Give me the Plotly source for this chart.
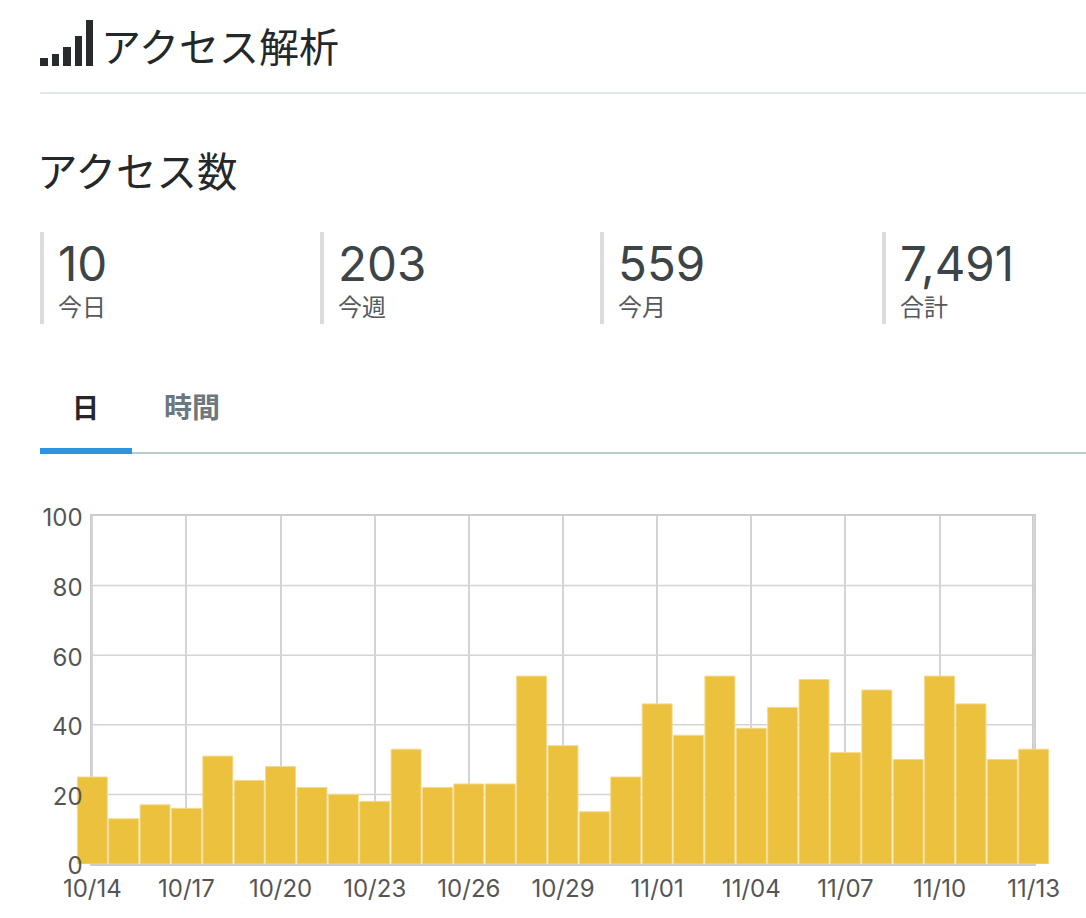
import plotly.graph_objects as go

days = ["10/14","10/15","10/16","10/17","10/18","10/19","10/20","10/21","10/22","10/23","10/24",
        "10/25","10/26","10/27","10/28","10/29","10/30","10/31","11/01","11/02","11/03","11/04",
        "11/05","11/06","11/07","11/08","11/09","11/10","11/11","11/12","11/13"]
visits = [25,13,17,16,31,24,28,22,20,18,33,22,23,23,54,34,15,25,46,37,54,39,45,53,32,50,30,54,46,30,33]
x_ticks = days[::3]
y_ticks = [0,20,40,60,80,100]
stat_values = ["10","203","559","7,491"]
stat_labels = ["今日","今週","今月","合計"]
stat_left = [40,320,600,882]

W, H = 1086, 918
JP = "Noto Sans CJK JP"
NUM = "Inter"
px = lambda x: x / W
py = lambda y: 1 - y / H

annotations = []
def text(x, y, s, size, color, font=JP, anchor="left"):
    annotations.append(dict(x=px(x), y=py(y), xref="paper", yref="paper", text=s, showarrow=False,
                            xanchor=anchor, yanchor="middle", borderpad=0,
                            font=dict(size=size, color=color, family=font)))
shapes = []
def rect(x0, y0, x1, y1, color, layer="above"):
    shapes.append(dict(type="rect", xref="paper", yref="paper", x0=px(x0), x1=px(x1), y0=py(y0), y1=py(y1),
                       fillcolor=color, line=dict(width=0), layer=layer))

# header
for x0, x1, top in [(40,48,58),(52,59,54),(63,71,47),(75,82,36),(86,93,20)]:
    rect(x0, top, x1, 66, "#272b2d")
text(100, 45, "アクセス解析", 40, "#25282a")
rect(40, 92, W, 94, "#dfe7ea")
text(36, 170, "アクセス数", 40.5, "#25282a")

# stats
for left, v, l in zip(stat_left, stat_values, stat_labels):
    rect(left, 232, left+4, 324, "#dcdcdc")
    text(left+17, 263, v, 47.5, "#3d4447", NUM)
    text(left+17, 305, l, 24, "#54595c")

# tabs
text(85.5, 406, "<b>日</b>", 27, "#25282a", anchor="center")
text(192, 406, "<b>時間</b>", 28, "#6d787e", anchor="center")
rect(132, 452, W, 454, "#bccad0")
rect(40, 448, 132, 454, "#2d95e0")

# chart frame and horizontal grid, kept to the 10/14 .. 11/13 span
rect(90, 514, 1036, 516, "#cccccc", "below")
rect(90, 514, 92, 866, "#cccccc", "below")
rect(1032, 514, 1036, 866, "#cccccc", "below")
rect(90, 864, 1036, 866, "#cccccc", "below")
for v in y_ticks[1:-1]:
    shapes.append(dict(type="line", xref="x", yref="y", x0=days[0], x1=days[-1], y0=v, y1=v,
                       line=dict(color="#d4d4d4", width=1.5), layer="below"))

fig = go.Figure(go.Bar(x=days, y=visits, width=0.955,
                       marker=dict(color="#ecc13e", line=dict(color="#f4d98a", width=1)),
                       hovertemplate="%{x}: %{y}<extra></extra>"))
fig.update_layout(
    width=W, height=H, margin=dict(l=0, r=0, t=0, b=0, autoexpand=False), autosize=False,
    paper_bgcolor="white", plot_bgcolor="white", showlegend=False,
    annotations=annotations, shapes=shapes,
    xaxis=dict(type="category", categoryorder="array", categoryarray=days, range=[-0.5,30.5],
               domain=[px(76.6), px(1049.4)], tickmode="array", tickvals=x_ticks, ticktext=x_ticks,
               automargin=False, showgrid=True, gridcolor="#d4d4d4", gridwidth=1.5,
               showline=False, zeroline=False,
               ticks="", tickangle=0, ticklabelstandoff=8,
               tickfont=dict(size=24, color="#555", family=NUM)),
    yaxis=dict(range=[0,100], domain=[py(864), py(516)], tickmode="array", tickvals=y_ticks,
               automargin=False, showgrid=False, zeroline=False, showline=False,
               ticks="", ticklabelstandoff=-7, ticklabelshift=2,
               tickfont=dict(size=24, color="#555", family=NUM)),
)
fig.write_html("out.html", config={"displayModeBar": False},
               post_script="document.body.style.margin='0';")
